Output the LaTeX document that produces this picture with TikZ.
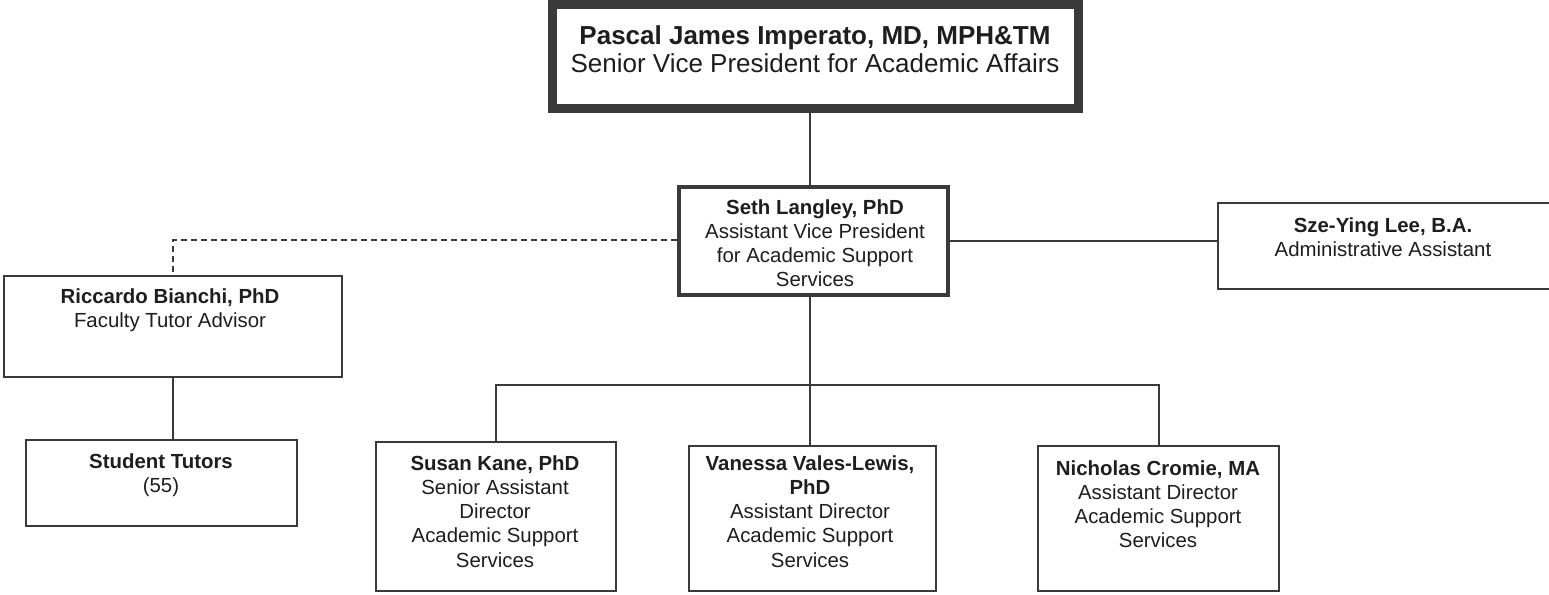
\documentclass[tikz,border=0pt]{standalone}
\usepackage{fontspec}
\setmainfont{Liberation Sans}
\definecolor{linec}{HTML}{3A3A3A}
\definecolor{txtc}{HTML}{1E1E1E}
\tikzset{
  box/.style={draw=linec, line width=1.5pt, inner sep=0pt, rectangle},
  conn/.style={draw=linec, line width=1.5pt},
  dconn/.style={draw=linec, line width=1.5pt, dash pattern=on 4.5pt off 3pt},
  txt/.style={text=txtc, align=center, inner sep=0pt, anchor=north, font=\fontsize{15.3}{18.2}\selectfont},
  bigtxt/.style={text=txtc, align=center, inner sep=0pt, anchor=north, font=\fontsize{19.5}{21}\selectfont}
}
\begin{document}
\begin{tikzpicture}[x=0.75pt,y=-0.75pt]
\useasboundingbox[fill=white] (0,0) rectangle (1549,594);
% boxes
\node[box, line width=6.5pt, minimum width=526*0.75pt, minimum height=104*0.75pt] (top) at (815.5,56.5) {};
\node[box, line width=3.4pt, minimum width=269*0.75pt, minimum height=108*0.75pt] (seth) at (813.5,241) {};
\node[box, minimum width=338*0.75pt, minimum height=86*0.75pt] (sze) at (1387,246) {};
\node[box, minimum width=338*0.75pt, minimum height=101*0.75pt] (ric) at (173,326.5) {};
\node[box, minimum width=271*0.75pt, minimum height=86*0.75pt] (stu) at (161.5,483) {};
\node[box, minimum width=240*0.75pt, minimum height=149*0.75pt] (sus) at (496,516.5) {};
\node[box, minimum width=247*0.75pt, minimum height=145*0.75pt] (van) at (812.5,518.5) {};
\node[box, minimum width=241*0.75pt, minimum height=145*0.75pt] (nic) at (1158.5,518.5) {};
% texts
\node[bigtxt] (topT) at (815,25) {\textbf{Pascal James Imperato, MD, MPH\&TM}\\Senior Vice President for Academic Affairs};
\node[txt] (sethT) at (815,199) {\textbf{Seth Langley, PhD}\\Assistant Vice President\\for Academic Support\\Services};
\node[txt] (szeT) at (1383,217) {\textbf{Sze-Ying Lee, B.A.}\\Administrative Assistant};
\node[txt] (ricT) at (170,288) {\textbf{Riccardo Bianchi, PhD}\\Faculty Tutor Advisor};
\node[txt] (stuT) at (161,453) {\textbf{Student Tutors}\\(55)};
\node[txt] (susT) at (495,455) {\textbf{Susan Kane, PhD}\\Senior Assistant\\Director\\Academic Support\\Services};
\node[txt] (vanT) at (810,455) {\textbf{Vanessa Vales-Lewis,}\\\textbf{PhD}\\Assistant Director\\Academic Support\\Services};
\node[txt] (nicT) at (1158,460) {\textbf{Nicholas Cromie, MA}\\Assistant Director\\Academic Support\\Services};
% connectors
\coordinate (spine) at (810,385);
\coordinate (dcorner) at (173,240);
\draw[conn] (spine |- top.south) -- (spine |- seth.north);
\draw[conn] (spine |- seth.south) -- (spine);
\draw[conn] (sus.north) -- (sus.north |- spine) -- (spine) -- (nic.north |- spine) -- (nic.north);
\draw[conn] (spine) -- (spine |- van.north);
\draw[conn] (seth.east) -- (seth.east -| sze.west);
\draw[dconn] (seth.west |- dcorner) -- (dcorner) -- (ric.north);
\draw[conn] (ric.south) -- (stu.north -| ric.south);
\end{tikzpicture}
\end{document}
